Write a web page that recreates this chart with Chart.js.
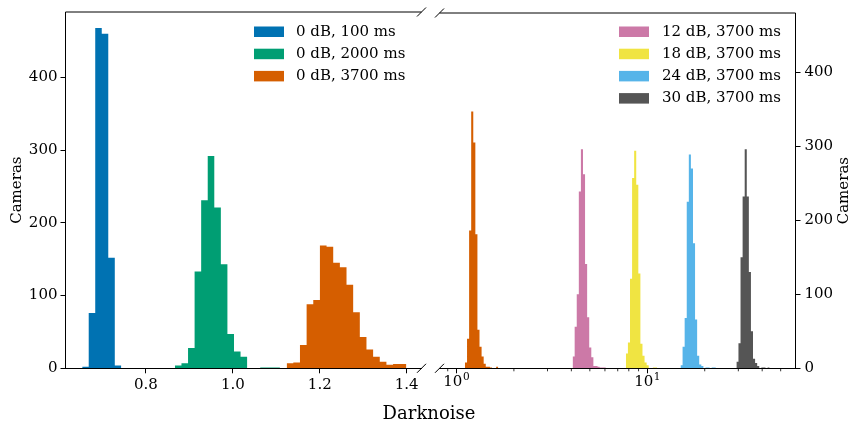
<!DOCTYPE html>
<html><head><meta charset="utf-8">
<script src="https://cdn.jsdelivr.net/npm/chart.js@4.4.1/dist/chart.umd.min.js"></script>
<style>
html,body{margin:0;padding:0;background:#fff;}
#wrap{position:relative;width:850px;height:427px;overflow:hidden;background:#fff;}
#cl{position:absolute;left:0;top:0;}
#cr{position:absolute;left:432px;top:0;}
#xlabel{position:absolute;left:0;top:403px;width:858px;text-align:center;font-family:'DejaVu Serif',serif;font-size:18px;line-height:20px;color:#000;}
</style></head><body>
<div id="wrap">
<canvas id="cl" width="432" height="427"></canvas>
<canvas id="cr" width="418" height="427"></canvas>
<div id="xlabel">Darknoise</div>
</div>
<script>
const FONT = "'DejaVu Serif', serif";

// ---------- Left panel: linear Darknoise bins ----------
const leftLabels = ['0 dB, 100 ms', '0 dB, 2000 ms', '0 dB, 3700 ms'];
const leftColors = ['#0072B2', '#009E73', '#D55E00'];
const blueStart = 0.6534, blueWidth = 0.0150;
const blueCounts = [2, 76, 468, 460, 152, 4];
const greenStart = 0.8667, greenWidth = 0.0151;
const greenCounts = [4, 7, 28, 133, 231, 292, 221, 143, 47, 23, 16, 0, 0, 1, 1, 1];
const orangeStart = 1.1238, orangeWidth = 0.0153;
const orangeCounts = [7, 8, 32, 88, 94, 169, 167, 145, 139, 115, 77, 43, 26, 16, 9, 5, 6, 6];

// ---------- Right panel: log-spaced Darknoise bins ----------
const LOG_BIN = 0.0109; // bin width in decades
const rightLabels = ['0 dB, 3700 ms', '12 dB, 3700 ms', '18 dB, 3700 ms', '24 dB, 3700 ms', '30 dB, 3700 ms'];
const rightColors = ['#D55E00', '#CC79A7', '#F0E442', '#56B4E9', '#555555'];
const orangeLogStart = 1.108;
const orangeLogCounts = [8, 40, 186, 347, 305, 181, 52, 29, 16, 6, 2, 2, 1, 0, 0, 2];
const pinkLogStart = 4.06;
const pinkLogCounts = [16, 56, 100, 239, 296, 262, 141, 69, 28, 15, 3, 3, 2, 1, 1, 1];
const yellowLogStart = 7.72;
const yellowLogCounts = [20, 35, 121, 257, 294, 248, 128, 33, 17, 8, 4, 0, 0, 1, 1];
const skyLogStart = 14.93;
const skyLogCounts = [4, 29, 68, 225, 289, 270, 169, 66, 17, 5, 3, 0, 1, 1, 0, 1, 1];
const grayLogStart = 29.3;
const grayLogCounts = [9, 34, 150, 232, 296, 232, 130, 50, 13, 7, 3, 0, 1, 1, 0, 1];

// ---------- Axes ----------
const leftXTicks = [0.8, 1.0, 1.2, 1.4];
const yTicks = [0, 100, 200, 300, 400];
const rightXMajor = [1, 10];
const rightXMajorExp = ['0', '1'];
const rightXMinor = [0.9, 2, 3, 4, 5, 6, 7, 8, 9, 20, 30, 40, 50];
const yTitle = 'Cameras';

function linHist(start, width, counts) {
  const pts = counts.map((c, i) => ({x: start + i * width, y: c}));
  pts.push({x: start + counts.length * width, y: 0});
  return pts;
}
function logHist(start, counts) {
  const pts = counts.map((c, i) => ({x: start * Math.pow(10, i * LOG_BIN), y: c}));
  pts.push({x: start * Math.pow(10, counts.length * LOG_BIN), y: 0});
  return pts;
}
function ds(label, color, data, inLegend) {
  return {label, data, backgroundColor: color, borderColor: 'rgba(0,0,0,0)', borderWidth: 0,
    fill: 'origin', stepped: true, pointRadius: 0, pointHoverRadius: 0, inLegend: inLegend};
}

const framePlugin = {
  id: 'frame',
  afterDraw(chart, args, o) {
    const ctx = chart.ctx, a = chart.chartArea;
    ctx.save();
    ctx.strokeStyle = '#000';
    ctx.lineWidth = 1;
    ctx.beginPath(); ctx.moveTo(a.left, a.top); ctx.lineTo(a.right, a.top); ctx.stroke();
    const bx = o.breakAt === 'right' ? a.right : a.left;
    [a.top, a.bottom].forEach(y => {
      ctx.beginPath(); ctx.moveTo(bx - 4.5, y + 4.5); ctx.lineTo(bx + 4.5, y - 4.5); ctx.stroke();
    });
    if (o.minor) {
      const xs = chart.scales.x;
      ctx.lineWidth = 0.8;
      o.minor.forEach(v => {
        if (v < xs.min || v > xs.max) return;
        const px = xs.getPixelForValue(v);
        ctx.beginPath(); ctx.moveTo(px, a.bottom); ctx.lineTo(px, a.bottom + 3); ctx.stroke();
      });
      // power-of-ten labels with raised exponent
      ctx.fillStyle = '#000';
      ctx.textBaseline = 'middle';
      ctx.textAlign = 'left';
      rightXMajor.forEach((v, i) => {
        const px = xs.getPixelForValue(v);
        ctx.font = '15px ' + FONT;
        const wb = ctx.measureText('10').width;
        ctx.font = '10.5px ' + FONT;
        const we = ctx.measureText(rightXMajorExp[i]).width;
        const x0 = px - (wb + we + 0.5) / 2;
        ctx.font = '15px ' + FONT;
        ctx.fillText('10', x0, a.bottom + 14);
        ctx.font = '10.5px ' + FONT;
        ctx.fillText(rightXMajorExp[i], x0 + wb + 0.5, a.bottom + 9);
      });
    }
    // legend
    ctx.font = '15px ' + FONT;
    ctx.textAlign = 'left';
    ctx.textBaseline = 'middle';
    let row = 0;
    chart.data.datasets.forEach(d => {
      if (!d.inLegend) return;
      const y = o.legend.y0 + row * o.legend.dy;
      ctx.fillStyle = d.backgroundColor;
      ctx.fillRect(o.legend.x, y - 5, 30, 10.5);
      ctx.fillStyle = '#000';
      ctx.fillText(d.label, o.legend.tx, y + 0.5);
      row++;
    });
    if (o.rightTitle) {
      ctx.translate(o.rightTitle, (a.top + a.bottom) / 2);
      ctx.rotate(-Math.PI / 2);
      ctx.textAlign = 'center';
      ctx.fillStyle = '#000';
      ctx.fillText(yTitle, 0, 0);
    }
    ctx.restore();
  }
};

const tickFont = {family: FONT, size: 15};
const gridOpts = {drawOnChartArea: false, drawTicks: true, tickLength: 5, color: '#000', lineWidth: 1};
const borderOpts = {display: true, color: '#000', width: 1};

new Chart(document.getElementById('cl'), {
  type: 'line',
  data: {datasets: [
    ds(leftLabels[0], leftColors[0], linHist(blueStart, blueWidth, blueCounts), true),
    ds(leftLabels[1], leftColors[1], linHist(greenStart, greenWidth, greenCounts), true),
    ds(leftLabels[2], leftColors[2], linHist(orangeStart, orangeWidth, orangeCounts), true)
  ]},
  options: {
    responsive: false, animation: false, events: [],
    layout: {padding: {left: 0, top: 11.7, right: 10.5, bottom: 0}},
    plugins: {legend: {display: false}, tooltip: {enabled: false},
      frame: {breakAt: 'right', legend: {x: 254, tx: 296, y0: 31.5, dy: 22.2}}},
    scales: {
      x: {type: 'linear', min: 0.615, max: 1.434,
        afterBuildTicks: s => { s.ticks = leftXTicks.map(v => ({value: v})); },
        afterFit: s => { s.height = 58.7; },
        ticks: {autoSkip: false, maxRotation: 0, font: tickFont, color: '#000', padding: 3,
          callback: v => Number(v).toFixed(1)},
        grid: gridOpts, border: borderOpts},
      y: {type: 'linear', min: 0, max: 490,
        afterBuildTicks: s => { s.ticks = yTicks.map(v => ({value: v})); },
        afterFit: s => { s.width = 65.5; },
        ticks: {autoSkip: false, font: tickFont, color: '#000', padding: 3},
        title: {display: true, text: yTitle, font: {family: FONT, size: 15}, color: '#000', padding: {top: 8, bottom: 0}},
        grid: gridOpts, border: borderOpts}
    }
  },
  plugins: [framePlugin]
});

new Chart(document.getElementById('cr'), {
  type: 'line',
  data: {datasets: [
    ds(rightLabels[0], rightColors[0], logHist(orangeLogStart, orangeLogCounts), false),
    ds(rightLabels[1], rightColors[1], logHist(pinkLogStart, pinkLogCounts), true),
    ds(rightLabels[2], rightColors[2], logHist(yellowLogStart, yellowLogCounts), true),
    ds(rightLabels[3], rightColors[3], logHist(skyLogStart, skyLogCounts), true),
    ds(rightLabels[4], rightColors[4], logHist(grayLogStart, grayLogCounts), true)
  ]},
  options: {
    responsive: false, animation: false, events: [],
    layout: {padding: {left: 7.5, top: 11.7, right: 0, bottom: 0}},
    plugins: {legend: {display: false}, tooltip: {enabled: false},
      frame: {breakAt: 'left', minor: rightXMinor, rightTitle: 412,
        legend: {x: 187, tx: 230, y0: 31.5, dy: 22.2}}},
    scales: {
      x: {type: 'logarithmic', min: 0.815, max: 59.8,
        afterBuildTicks: s => { s.ticks = rightXMajor.map(v => ({value: v, major: true})); },
        afterFit: s => { s.height = 58.7; },
        ticks: {autoSkip: false, maxRotation: 0, font: tickFont, color: '#000', padding: 3,
          callback: () => ''},
        grid: gridOpts, border: borderOpts},
      y: {type: 'linear', position: 'right', min: 0, max: 480,
        afterBuildTicks: s => { s.ticks = yTicks.map(v => ({value: v})); },
        afterFit: s => { s.width = 54.5; },
        ticks: {autoSkip: false, font: tickFont, color: '#000', padding: 4},
        grid: gridOpts, border: borderOpts}
    }
  },
  plugins: [framePlugin]
});
</script>
</body></html>
